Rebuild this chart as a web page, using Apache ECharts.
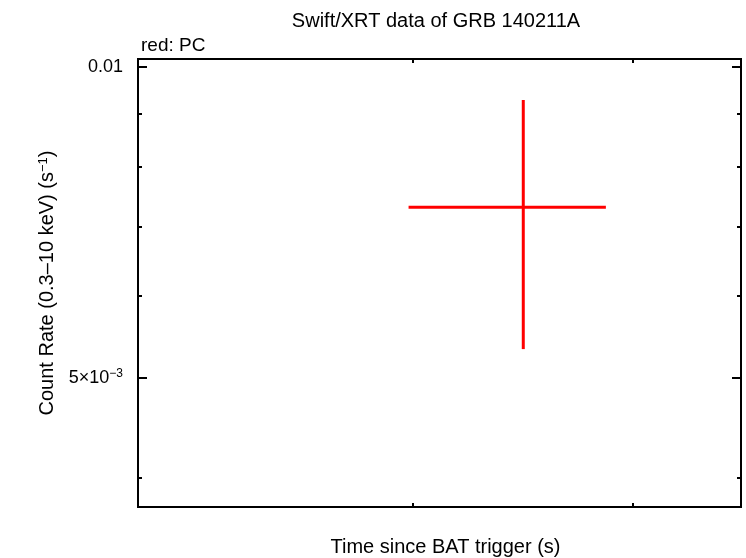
<!DOCTYPE html>
<html>
<head>
<meta charset="utf-8">
<script src="https://cdn.jsdelivr.net/npm/echarts@6/dist/echarts.min.js"></script>
<style>html,body{margin:0;padding:0;background:#fff}#c{width:746px;height:558px}</style>
</head>
<body>
<div id="c"></div>
<script>
// Data (time since BAT trigger in s, count rate in s^-1)
const timeMid = [24510];
const timeLo = [19840];
const timeHi = [28540];
const rateMid = [0.00731];
const rateLo = [0.00533];
const rateHi = [0.009285];

const xRange = [12050, 36610];
const yRange = [0.003749, 0.010173];
const xMinorTicks = [20000, 30000];
const yMajorTicks = [0.005, 0.01];
const yMinorTicks = [0.004, 0.006, 0.007, 0.008, 0.009];
const yMajorLabels = {0.005: '5×10{sup|−3}', 0.01: '0.01'};

const FONT = 'Liberation Sans';
const chart = echarts.init(document.getElementById('c'), null, {renderer: 'canvas'});

function yAxis(pos, ticks, len, opts) {
  return Object.assign({
    type: 'log', logBase: 10, min: yRange[0], max: yRange[1], position: pos,
    axisLine: {show: false},
    splitLine: {show: false},
    axisTick: {show: true, inside: true, length: len, customValues: ticks, lineStyle: {color: '#000', width: 2}},
    axisLabel: {show: false}
  }, opts || {});
}
function xAxis(pos, opts) {
  return Object.assign({
    type: 'log', logBase: 10, min: xRange[0], max: xRange[1], position: pos,
    axisLine: {show: false},
    splitLine: {show: false},
    axisTick: {show: true, inside: true, length: 4, customValues: xMinorTicks, lineStyle: {color: '#000', width: 2}},
    axisLabel: {show: false}
  }, opts || {});
}

const data = timeMid.map((t, i) => [t, rateMid[i], timeLo[i], timeHi[i], rateLo[i], rateHi[i]]);

chart.setOption({
  animation: false,
  title: [
    {text: 'Swift/XRT data of GRB 140211A', left: 431, top: 6, textAlign: 'center',
     textStyle: {fontFamily: FONT, fontSize: 20, fontWeight: 'normal', color: '#000'}},
    {text: 'red: PC', left: 136, top: 31,
     textStyle: {fontFamily: FONT, fontSize: 19, fontWeight: 'normal', color: '#000'}}
  ],
  grid: {left: 138, right: 5, top: 59, bottom: 51, show: true, borderColor: '#000', borderWidth: 2,
         backgroundColor: 'transparent', containLabel: false, outerBoundsMode: 'none'},
  xAxis: [
    xAxis('bottom', {name: 'Time since BAT trigger (s)', nameLocation: 'middle', nameGap: 30,
      nameTextStyle: {fontFamily: FONT, fontSize: 20, color: '#000', padding: [0, 0, 0, 12]}}),
    xAxis('top')
  ],
  yAxis: [
    yAxis('left', yMajorTicks, 9, {
      name: 'Count Rate (0.3–10 keV) (s{sup|−1})', nameLocation: 'middle', nameGap: 80,
      nameTextStyle: {fontFamily: FONT, fontSize: 20, color: '#000',
        rich: {sup: {fontFamily: FONT, fontSize: 13, color: '#000', verticalAlign: 'top', padding: [0,0,8,0]}}},
      axisLabel: {show: true, customValues: yMajorTicks, margin: 15, fontFamily: FONT, fontSize: 18, color: '#000',
        formatter: v => {
          for (const k in yMajorLabels) { if (Math.abs(v - Number(k)) / Number(k) < 1e-6) return yMajorLabels[k]; }
          return '';
        },
        rich: {sup: {fontFamily: FONT, fontSize: 12, color: '#000', padding: [0,0,9,0]}}}
    }),
    yAxis('left', yMinorTicks, 4),
    yAxis('right', yMajorTicks, 9),
    yAxis('right', yMinorTicks, 4)
  ],
  series: [{
    type: 'custom',
    xAxisIndex: 0, yAxisIndex: 0,
    data: data,
    encode: {x: [0, 2, 3], y: [1, 4, 5]},
    renderItem: function (params, api) {
      const c = api.coord([api.value(0), api.value(1)]);
      const l = api.coord([api.value(2), api.value(1)]);
      const r = api.coord([api.value(3), api.value(1)]);
      const lo = api.coord([api.value(0), api.value(4)]);
      const hi = api.coord([api.value(0), api.value(5)]);
      const style = {stroke: '#ff0000', lineWidth: 3};
      return {type: 'group', children: [
        {type: 'line', shape: {x1: l[0], y1: l[1], x2: r[0], y2: r[1]}, style: style},
        {type: 'line', shape: {x1: c[0], y1: lo[1], x2: c[0], y2: hi[1]}, style: style}
      ]};
    }
  }]
});
</script>
</body>
</html>
